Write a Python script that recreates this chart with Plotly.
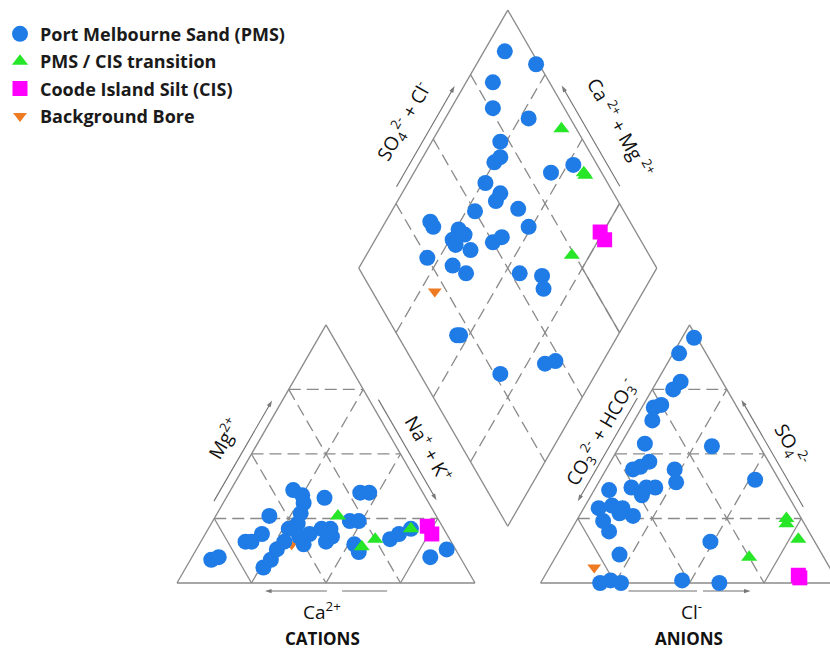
import numpy as np
import plotly.graph_objects as go

# ---------------------------------------------------------------
# Piper diagram data (percent of meq/L)
# ---------------------------------------------------------------
# Cation triangle: Ca2+, Mg2+, Na+ + K+
pms_ca  = [84, 81, 69, 67, 62, 56, 68, 64, 60, 56, 43, 41, 42, 45, 48, 52, 34, 21,
           18, 46, 41, 38, 39, 50, 42, 30, 27, 33, 33, 20, 16, 11, 3, 10, 50]
pms_mg  = [9, 10, 16, 16, 19, 26, 6, 9, 13, 16, 36, 34, 31, 27, 23, 21, 33, 35,
           35, 19, 21, 21, 18, 15, 16, 24, 24, 15, 12, 17, 19, 21, 13, 10, 18]
pms_nak = [7, 9, 15, 17, 19, 18, 26, 27, 27, 28, 21, 25, 27, 28, 29, 27, 33, 44,
           47, 35, 38, 41, 43, 35, 42, 46, 49, 52, 55, 63, 65, 68, 84, 80, 32]

trn_ca,  trn_mg,  trn_nak = [33, 31, 25, 11], [26, 14, 17, 21], [41, 55, 58, 68]
cis_ca,  cis_mg,  cis_nak = [5, 5], [22, 19], [73, 76]
bkg_ca,  bkg_mg,  bkg_nak = [54], [15], [31]

# Anion triangle: CO3 2- + HCO3-, Cl-, SO4 2-
pms_hco3 = [1, 9, 14, 18, 25, 28, 31, 38, 16, 40, 44, 47, 33, 35, 8, 51, 46,
            43, 49, 59, 66, 61, 58, 56, 67, 67, 60, 68, 35, 80, 76, 73, 52, 40]
pms_cl   = [4, 2, 8, 7, 6, 4, 6, 8, 31, 13, 11, 9, 23, 26, 52, 12, 17,
            20, 17, 5, 5, 9, 13, 18, 9, 13, 13, 21, 49, 20, 23, 27, 47, 60]
pms_so4  = [95, 89, 78, 75, 69, 68, 63, 54, 53, 47, 45, 44, 44, 39, 40, 37, 37,
            37, 34, 36, 29, 30, 29, 26, 24, 20, 27, 11, 16, 0, 1, 0, 1, 0]

trn_hco3, trn_cl, trn_so4 = [5, 6, 5, 25], [70, 71, 78, 65], [25, 23, 17, 10]
cis_hco3, cis_cl, cis_so4 = [12, 12], [86, 85], [2, 3]
bkg_hco3, bkg_cl, bkg_so4 = [79], [15], [6]

# Central diamond: Na+ + K+ and SO4 2- + Cl-
pms_d_nak  = [7, 20, 9, 14, 28, 23, 26, 25, 26, 33, 33, 28, 42, 49, 17, 15, 26, 26,
              29, 34, 28, 40, 42, 21, 31, 37, 55, 63, 66, 46, 52, 46, 47, 68, 81, 84]
pms_d_so4cl = [91, 99, 81, 76, 86, 72, 69, 66, 59, 62, 59, 50, 65, 65, 33, 33, 41, 37,
               42, 41, 37, 50, 54, 25, 32, 35, 53, 60, 58, 83, 92, 20, 21, 27, 44, 48]

trn_d_nak, trn_d_so4cl = [41, 57, 58, 69], [95, 94, 94, 74]
cis_d_nak, cis_d_so4cl = [74, 77], [88, 88]
bkg_d_nak, bkg_d_so4cl = [30], [21]

groups = [
    # name, colour, symbol, size, legend rank, cation, anion, diamond
    ("Background Bore", "#EE7A22", "triangle-down", 12, 4,
     (bkg_ca, bkg_mg, bkg_nak), (bkg_hco3, bkg_cl, bkg_so4), (bkg_d_nak, bkg_d_so4cl)),
    ("Port Melbourne Sand (PMS)", "#1F7BE6", "circle", 16, 1,
     (pms_ca, pms_mg, pms_nak), (pms_hco3, pms_cl, pms_so4), (pms_d_nak, pms_d_so4cl)),
    ("PMS / CIS transition", "#27E627", "triangle-up", 14, 2,
     (trn_ca, trn_mg, trn_nak), (trn_hco3, trn_cl, trn_so4), (trn_d_nak, trn_d_so4cl)),
    ("Coode Island Silt (CIS)", "#FF00FF", "square", 15, 3,
     (cis_ca, cis_mg, cis_nak), (cis_hco3, cis_cl, cis_so4), (cis_d_nak, cis_d_so4cl)),
]

# ---------------------------------------------------------------
# Geometry (triangle side = 1)
# ---------------------------------------------------------------
GAP = 0.22
H = np.sqrt(3) / 2

C_BL, C_BR, C_T = np.array([0, 0]), np.array([1, 0]), np.array([0.5, H])
A_BL, A_BR, A_T = np.array([1 + GAP, 0]), np.array([2 + GAP, 0]), np.array([1.5 + GAP, H])
D_B = np.array([1 + GAP / 2, GAP * H])
D_L = np.array([0.5 + GAP / 2, H + GAP * H])
D_T = np.array([1 + GAP / 2, 2 * H + GAP * H])
D_R = np.array([1.5 + GAP / 2, H + GAP * H])


def cation_xy(mg, nak):
    mg, nak = np.asarray(mg) / 100, np.asarray(nak) / 100
    return nak + 0.5 * mg, H * mg


def anion_xy(cl, so4):
    cl, so4 = np.asarray(cl) / 100, np.asarray(so4) / 100
    return 1 + GAP + cl + 0.5 * so4, H * so4


def diamond_xy(nak, so4cl):
    nak, a = np.asarray(nak) / 100, np.asarray(so4cl) / 100
    return 0.5 * (nak + 1 + GAP + a), H * (1 + GAP + a - nak)


fig = go.Figure()

# ---------------------------------------------------------------
# Frame and grid
# ---------------------------------------------------------------
GRID = "#8a8a8a"
shapes = []


def seg(p, q, dash="solid", width=1.3, color=GRID):
    shapes.append(dict(type="line", xref="x", yref="y", layer="below",
                       x0=p[0], y0=p[1], x1=q[0], y1=q[1],
                       line=dict(color=color, width=width, dash=dash)))


DASH = "12px,6px"
LEVELS = [0.25, 0.5, 0.75]

for pa, pb, pc in [(C_BL, C_BR, C_T), (A_BL, A_BR, A_T)]:
    for k in LEVELS:
        seg((1 - k) * pa + k * pc, (1 - k) * pb + k * pc, DASH)
        seg(k * pa + (1 - k) * pc, k * pa + (1 - k) * pb,
            "solid" if k == 0.75 else DASH)
        seg(k * pb + (1 - k) * pa, k * pb + (1 - k) * pc,
            "solid" if k == 0.75 else DASH)
    seg(pa, pb); seg(pb, pc); seg(pc, pa)


def dpt(nak, a):
    x, y = diamond_xy([nak * 100], [a * 100])
    return np.array([x[0], y[0]])


for k in LEVELS:
    seg(dpt(k, 0), dpt(k, 1), DASH)
    seg(dpt(0, k), dpt(1, k), DASH)
seg(dpt(0.75, 0.75), dpt(0.75, 1))
seg(dpt(0.75, 0.75), dpt(1, 0.75))
seg(D_B, D_L); seg(D_L, D_T); seg(D_T, D_R); seg(D_R, D_B)

# ---------------------------------------------------------------
# Axis titles and direction arrows
# ---------------------------------------------------------------
LEFT_N = np.array([-H, 0.5])
RIGHT_N = np.array([H, 0.5])
TXT = dict(family="Open Sans", size=19, color="#111111")
ARROW_C = "#707070"
annotations = []


def along(p0, p1, t, off, n):
    return p0 + t * (p1 - p0) + off * n


def arrow(tail, head):
    # shaft plus an arrow-shaped marker oriented along the shaft
    fig.add_trace(go.Scatter(
        x=[tail[0], head[0]], y=[tail[1], head[1]], mode="lines+markers",
        line=dict(color=ARROW_C, width=1.1),
        marker=dict(symbol="arrow", angleref="previous", size=[0, 7],
                    color="#404040", line=dict(width=0)),
        showlegend=False, hoverinfo="skip"))


def label(pos, text, angle=0, font=TXT):
    annotations.append(dict(x=pos[0], y=pos[1], xref="x", yref="y", text=text,
                            showarrow=False, textangle=angle, font=font,
                            xanchor="center", yanchor="middle"))


side_titles = [
    # edge start, edge end, normal, tail t, head t, arrow offset, label t, label offset, angle, text
    (C_BL, C_T, LEFT_N, 0.30, 0.69, 0.030, 0.50, 0.108, -60, "Mg<sup>2+</sup>"),
    (C_BR, C_T, RIGHT_N, 0.695, 0.305, 0.027, 0.47, 0.092, 60, "Na<sup>+</sup> + K<sup>+</sup>"),
    (A_BL, A_T, LEFT_N, 0.70, 0.30, 0.029, 0.54, 0.078, -60,
     "CO<sub>3</sub><sup>2-</sup> + HCO<sub>3</sub><sup>-</sup>"),
    (A_BR, A_T, RIGHT_N, 0.28, 0.695, 0.025, 0.48, 0.092, 60, "SO<sub>4</sub><sup>2-</sup>"),
    (D_L, D_T, LEFT_N, 0.30, 0.69, 0.027, 0.50, 0.115, -60,
     "SO<sub>4</sub><sup>2-</sup> + Cl<sup>-</sup>"),
    (D_R, D_T, RIGHT_N, 0.30, 0.69, 0.030, 0.47, 0.130, 60,
     "Ca <sup>2+</sup> + Mg <sup>2+</sup>"),
]
for p0, p1, n, t0, t1, aoff, lt, loff, ang, txt in side_titles:
    arrow(along(p0, p1, t0, aoff, n), along(p0, p1, t1, aoff, n))
    label(along(p0, p1, lt, loff, n), txt, ang)

# base arrows (split where the superscript sits)
YB = -0.027
arrow(np.array([0.503, YB]), np.array([0.295, YB]))
seg((0.554, YB), (0.705, YB), color=ARROW_C, width=1.1)
seg((1 + GAP + 0.295, YB), (1 + GAP + 0.525, YB), color=ARROW_C, width=1.1)
arrow(np.array([1 + GAP + 0.545, YB]), np.array([1 + GAP + 0.705, YB]))

label((0.487, -0.093), "Ca<sup>2+</sup>")
label((1 + GAP + 0.505, -0.093), "Cl<sup>-</sup>")
BIG = dict(family="Open Sans", size=17, color="#111111", weight="bold")
label((0.487, -0.186), "CATIONS", font=BIG)
label((1 + GAP + 0.497, -0.186), "ANIONS", font=BIG)

# data markers drawn above the decorations
for name, colour, symbol, size, rank, cat, an, dia in groups:
    cx, cy = cation_xy(cat[1], cat[2])
    ax_, ay_ = anion_xy(an[1], an[2])
    dx, dy = diamond_xy(dia[0], dia[1])
    fig.add_trace(go.Scatter(
        x=np.concatenate([cx, ax_, dx]),
        y=np.concatenate([cy, ay_, dy]),
        mode="markers", name=name, legendrank=rank, legendgroup=name,
        marker=dict(color=colour, symbol=symbol, size=size, line=dict(width=0)),
        hoverinfo="skip",
    ))

fig.update_layout(
    width=830, height=651,
    margin=dict(l=0, r=0, t=0, b=0),
    paper_bgcolor="white", plot_bgcolor="white",
    xaxis=dict(range=[-0.59396, 2.19128], visible=False, fixedrange=True),
    yaxis=dict(range=[-0.22819, 1.95638], visible=False, fixedrange=True),
    shapes=shapes, annotations=annotations,
    showlegend=True,
    legend=dict(x=0.0, y=0.976, xanchor="left", yanchor="top",
                font=dict(family="Open Sans", size=18, color="#1a1a1a", weight="bold"),
                tracegroupgap=1, bgcolor="rgba(0,0,0,0)", itemwidth=30),
)

fig.write_html("out.html")
